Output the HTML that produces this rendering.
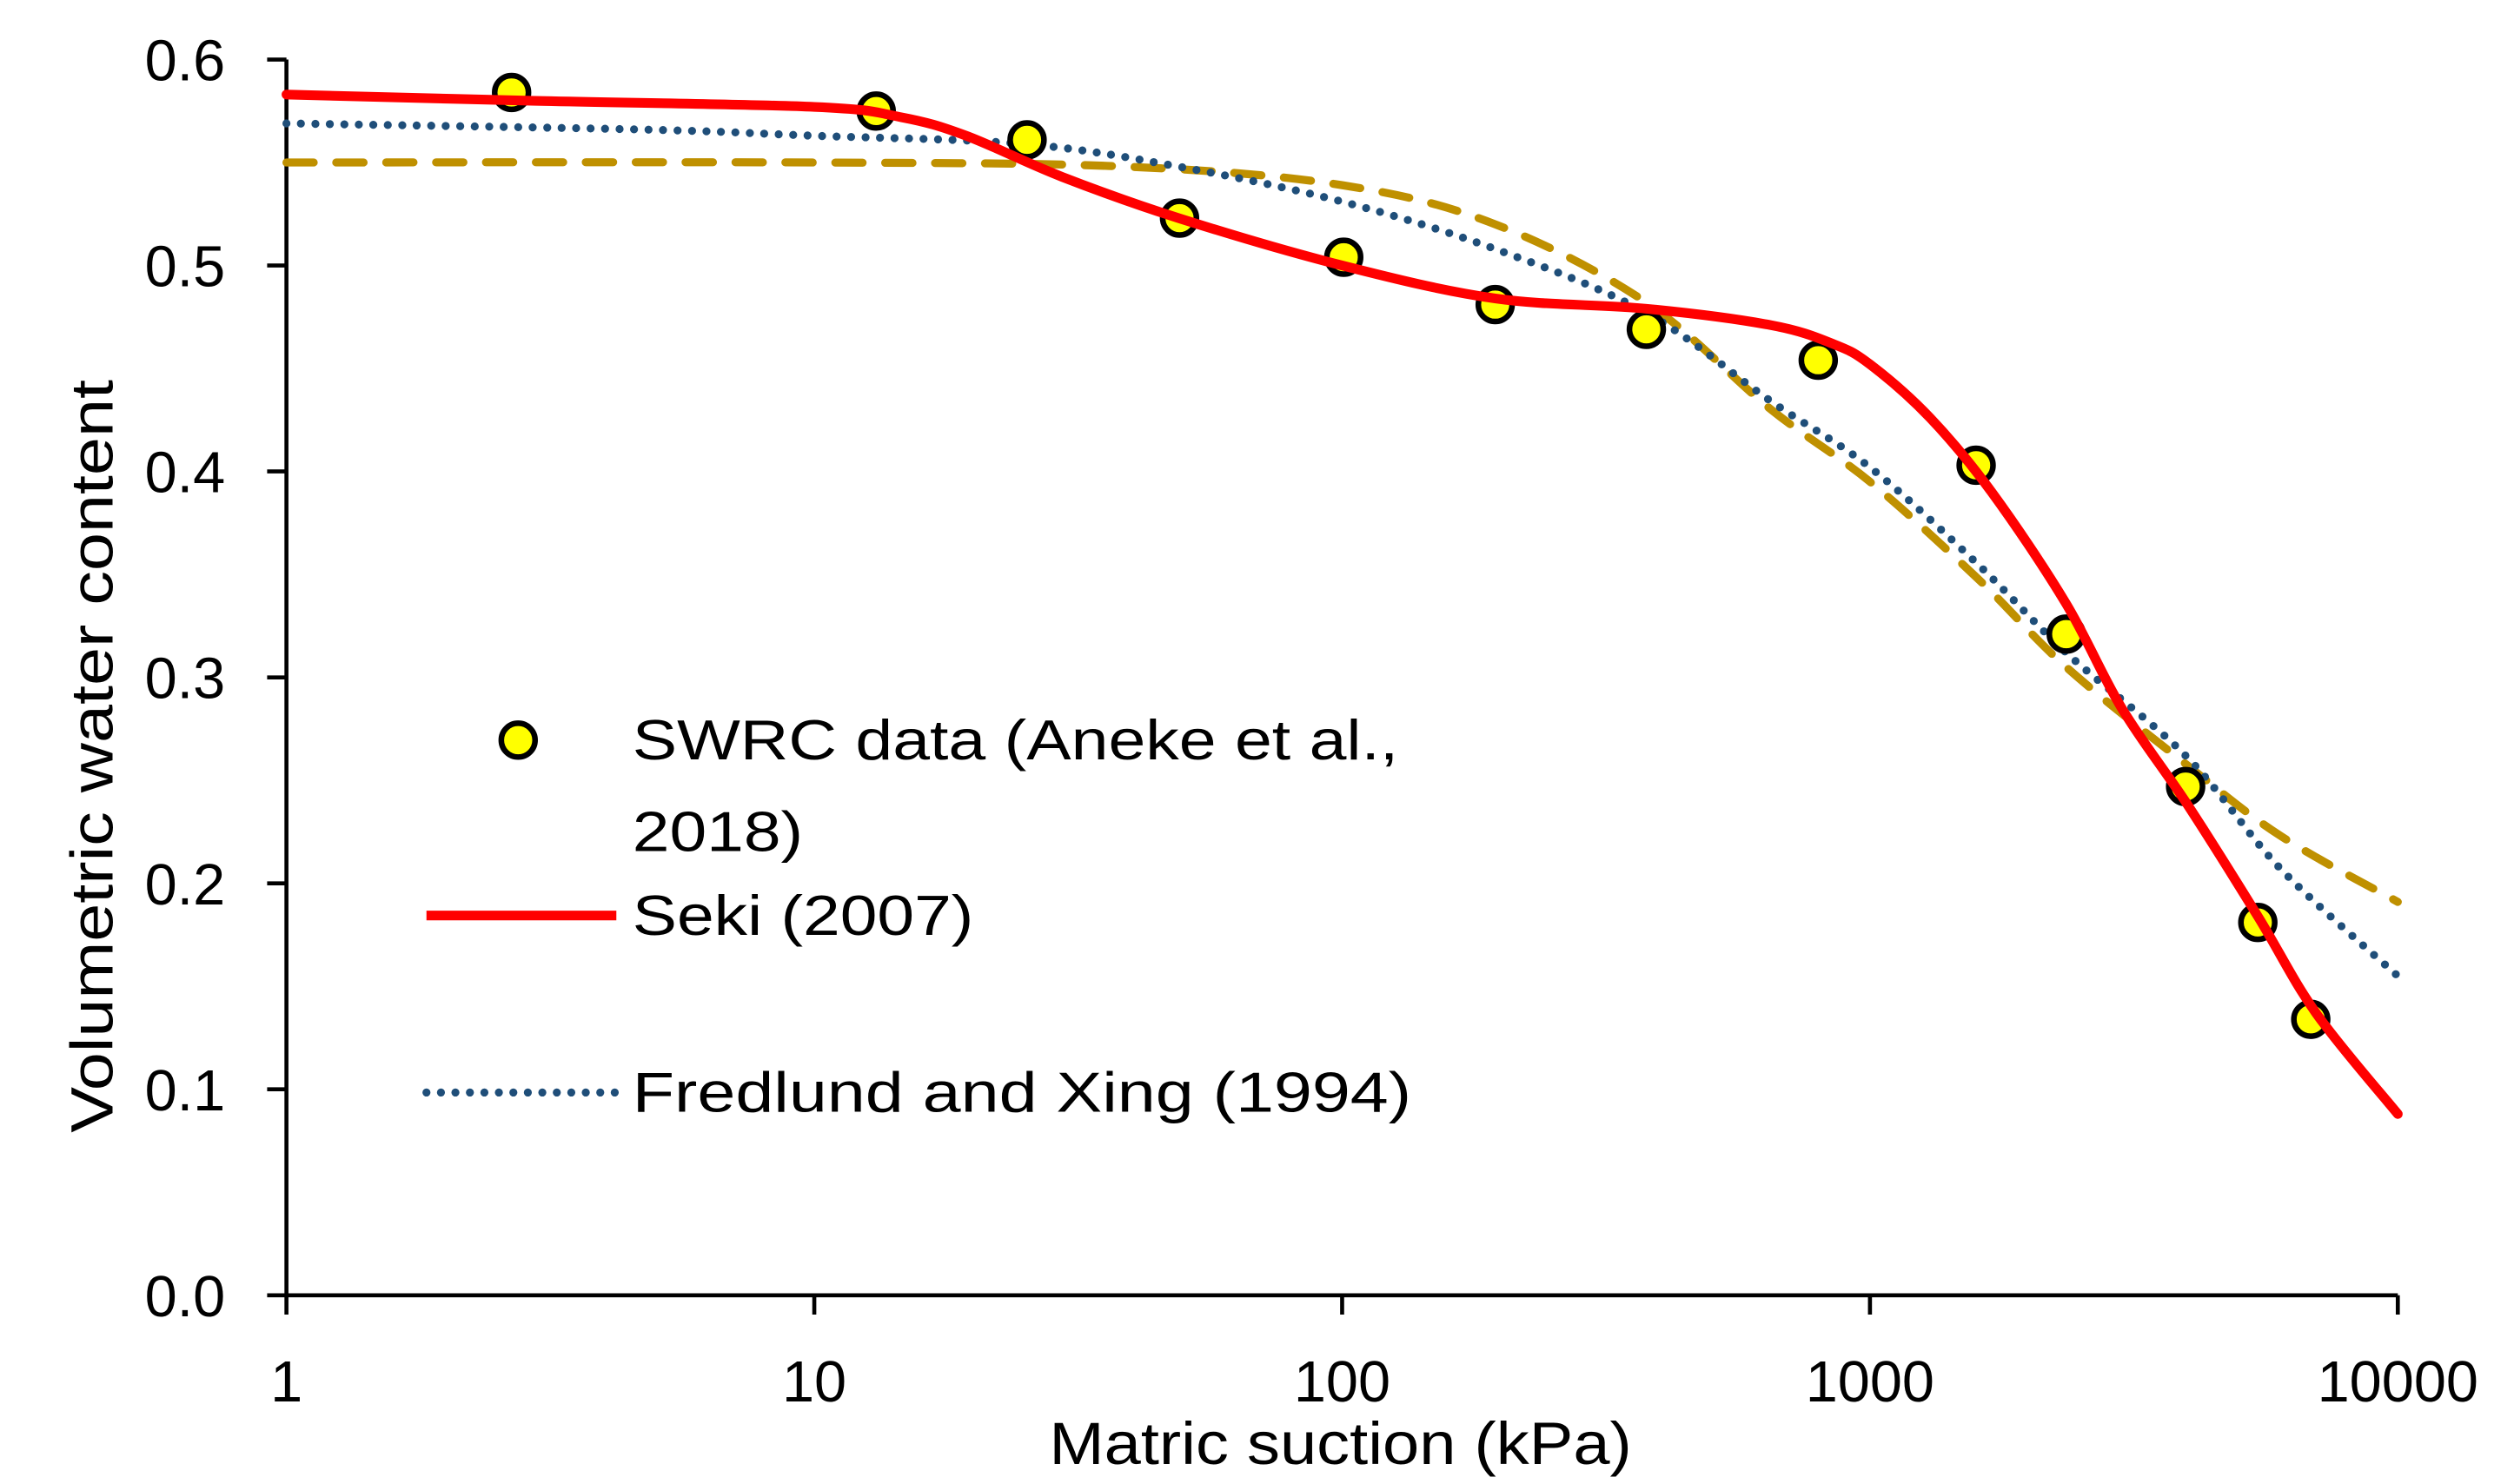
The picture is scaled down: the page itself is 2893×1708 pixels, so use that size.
<!DOCTYPE html>
<html><head><meta charset="utf-8"><style>
html,body{margin:0;padding:0;background:#fff;}
svg{display:block;font-family:"Liberation Sans",sans-serif;}
</style></head><body>
<svg id="chart" width="2893" height="1708" viewBox="0 0 1562.2 922.3" xmlns="http://www.w3.org/2000/svg">
<rect width="1562.2" height="922.3" fill="#fff"/>
<g id="axes"></g>
<g id="series"></g>
<text transform="translate(70,470) rotate(-90)" text-anchor="middle" font-size="37" textLength="468" lengthAdjust="spacingAndGlyphs">Volumetric water content</text>
<text x="833" y="910" text-anchor="middle" font-size="37" textLength="362" lengthAdjust="spacingAndGlyphs">Matric suction (kPa)</text>
<g>
<circle cx="322" cy="460" r="10.5" fill="#ffff00" stroke="#000" stroke-width="3.5"/>
<text x="393" y="472" font-size="35" textLength="476" lengthAdjust="spacingAndGlyphs">SWRC data (Aneke et al.,</text>
<text x="393" y="529" font-size="35" textLength="106" lengthAdjust="spacingAndGlyphs">2018)</text>
<line x1="265" y1="569" x2="383" y2="569" stroke="#ff0000" stroke-width="6"/>
<text x="393" y="581" font-size="35" textLength="212" lengthAdjust="spacingAndGlyphs">Seki (2007)</text>
<line x1="265" y1="679" x2="383" y2="679" stroke="#1f4e79" stroke-width="5" stroke-linecap="round" stroke-dasharray="0 9"/>
<text x="393" y="691" font-size="35" textLength="484" lengthAdjust="spacingAndGlyphs">Fredlund and Xing (1994)</text>
</g>
</svg>
<script>
const xTicks = [1, 10, 100, 1000, 10000];
const xTickLabels = ["1", "10", "100", "1000", "10000"];
const yTicks = [0, 0.1, 0.2, 0.3, 0.4, 0.5, 0.6];
const yTickLabels = ["0.0", "0.1", "0.2", "0.3", "0.4", "0.5", "0.6"];
const dataX = [2.67, 13.1, 25.3, 49.2, 100.7, 195, 377, 798, 1589, 2354, 3963, 5430, 6840];
const dataY = [0.584, 0.575, 0.561, 0.523, 0.504, 0.481, 0.469, 0.454, 0.403, 0.321, 0.247, 0.181, 0.134];
const sekiX = [1, 2.9, 10, 14.6, 19.4, 29.5, 49, 100, 195, 377, 650, 850, 1000, 1300, 1700, 2350, 3000, 4000, 5430, 7000, 10000];
const sekiY = [0.583, 0.580, 0.577, 0.572, 0.563, 0.543, 0.523, 0.500, 0.484, 0.479, 0.471, 0.462, 0.452, 0.426, 0.390, 0.336, 0.285, 0.238, 0.184, 0.137, 0.088];
const fxX = [1, 4.75, 10, 25, 49, 100, 195, 377, 650, 1000, 1600, 2354, 3963, 6000, 10000];
const fxY = [0.569, 0.566, 0.563, 0.559, 0.548, 0.531, 0.508, 0.477, 0.434, 0.402, 0.355, 0.312, 0.262, 0.207, 0.155];
const vgX = [1, 10, 39, 100, 195, 377, 650, 1000, 1600, 2354, 3963, 6000, 10000];
const vgY = [0.550, 0.550, 0.548, 0.539, 0.520, 0.482, 0.430, 0.395, 0.348, 0.305, 0.258, 0.223, 0.191];

const X0 = 178, X1 = 1490, Y0 = 805, Y1 = 37;
const xs = v => X0 + Math.log10(v) / 4 * (X1 - X0);
const ys = v => Y0 - v / 0.6 * (Y0 - Y1);
const NS = "http://www.w3.org/2000/svg";
function mk(tag, attrs, parent) {
  const e = document.createElementNS(NS, tag);
  for (const k in attrs) e.setAttribute(k, attrs[k]);
  parent.appendChild(e);
  return e;
}
const axes = document.getElementById("axes");
const series = document.getElementById("series");

yTicks.forEach((t, i) => {
  const tk = mk("line", {x1: 166, x2: X0, y1: ys(t), y2: ys(t), stroke: "#000", "stroke-width": 2.5}, axes);
  
  
  const lb = mk("text", {x: 140, y: ys(t) + 13, "text-anchor": "end", "font-size": 36}, axes);
  lb.textContent = yTickLabels[i];
  
  
});
xTicks.forEach((t, i) => {
  const tk = mk("line", {x1: xs(t), x2: xs(t), y1: Y0, y2: 817, stroke: "#000", "stroke-width": 2.5}, axes);
  
  
  const lb = mk("text", {x: xs(t), y: 871, "text-anchor": "middle", "font-size": 36}, axes);
  lb.textContent = xTickLabels[i];
  
  
});
const ya = mk("line", {x1: X0, x2: X0, y1: Y1, y2: Y0, stroke: "#000", "stroke-width": 2.5}, axes);


const xa = mk("line", {x1: X0, x2: X1, y1: Y0, y2: Y0, stroke: "#000", "stroke-width": 2.5}, axes);



function smoothPath(xv, yv) {
  const p = xv.map((x, i) => [xs(x), ys(yv[i])]);
  let d = "M" + p[0][0] + "," + p[0][1];
  for (let i = 0; i < p.length - 1; i++) {
    const a = p[i - 1] || p[i], b = p[i], c = p[i + 1], e = p[i + 2] || c;
    const c1 = [b[0] + (c[0] - a[0]) / 6, b[1] + (c[1] - a[1]) / 6];
    const c2 = [c[0] - (e[0] - b[0]) / 6, c[1] - (e[1] - b[1]) / 6];
    d += " C" + c1[0] + "," + c1[1] + " " + c2[0] + "," + c2[1] + " " + c[0] + "," + c[1];
  }
  return d;
}
const vg = mk("path", {d: smoothPath(vgX, vgY), fill: "none", stroke: "#bf9000", "stroke-width": 5, "stroke-linecap": "round", "stroke-dasharray": "17 14"}, series);


const fx = mk("path", {d: smoothPath(fxX, fxY), fill: "none", stroke: "#1f4e79", "stroke-width": 5, "stroke-linecap": "round", "stroke-dasharray": "0 9"}, series);


dataX.forEach((x, i) => {
  const c = mk("circle", {cx: xs(x), cy: ys(dataY[i]), r: 10.5, fill: "#ffff00", stroke: "#000", "stroke-width": 3.5}, series);
  
  
});
const sk = mk("path", {d: smoothPath(sekiX, sekiY), fill: "none", stroke: "#ff0000", "stroke-width": 6, "stroke-linecap": "round"}, series);


</script>
</body></html>
